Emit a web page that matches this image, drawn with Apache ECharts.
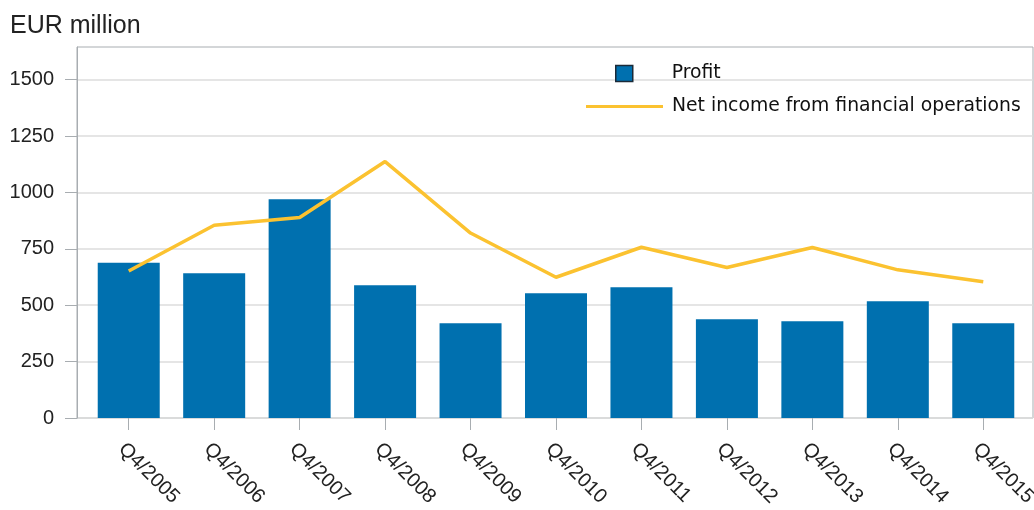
<!DOCTYPE html>
<html>
<head>
<meta charset="utf-8">
<script src="https://cdn.jsdelivr.net/npm/echarts@6/dist/echarts.min.js"></script>
<style>
  html, body { margin: 0; padding: 0; background: #fff; }
  #chart { width: 1034px; height: 510px; }
</style>
</head>
<body>
<div id="chart"></div>
<script>
const categories = ["Q4/2005", "Q4/2006", "Q4/2007", "Q4/2008", "Q4/2009", "Q4/2010",
  "Q4/2011", "Q4/2012", "Q4/2013", "Q4/2014", "Q4/2015"];
const profit = [688, 642, 970, 589, 420, 553, 580, 438, 429, 518, 420];
const netIncome = [652, 855, 889, 1137, 820, 624, 757, 667, 756, 657, 604];
const yTicks = [0, 250, 500, 750, 1000, 1250, 1500];

const font = "Liberation Sans, Arial, sans-serif";
const legendFont = "DejaVu Sans";
const yMax = 1645;
const axisGray = "#a8adb1";

var chart = echarts.init(document.getElementById("chart"));
var option = {
  backgroundColor: "#fff",
  animation: false,
  title: {
    text: "EUR million",
    left: 5,
    top: 9,
    textStyle: { fontFamily: font, fontSize: 25, fontWeight: "normal", color: "#222" },
  },
  legend: [
    {
      data: [{ name: "Profit", icon: "rect" }],
      left: 615,
      top: 64,
      padding: 0,
      itemWidth: 17,
      itemHeight: 16,
      itemStyle: { borderColor: "#1b2a38", borderWidth: 1.5 },
      textStyle: { fontFamily: legendFont, fontSize: 18.8, color: "#111", padding: [0, 0, 0, 34] },
    },
    {
      data: [{ name: "Net income from financial operations", icon: "rect" }],
      left: 586,
      top: 97,
      padding: 0,
      itemWidth: 77,
      itemHeight: 3,
      textStyle: { fontFamily: legendFont, fontSize: 18.8, color: "#111", padding: [0, 0, 0, 4] },
    },
  ],
  grid: [
    { left: 77, right: 1, top: 47, bottom: 92, show: true, borderColor: axisGray, borderWidth: 1, outerBoundsMode: "none" },
    { left: 86, right: 8, top: 47, bottom: 92, outerBoundsMode: "none" },
  ],
  xAxis: [
    { type: "value", gridIndex: 0, show: false, min: 0, max: 1 },
    {
      type: "category",
      gridIndex: 1,
      data: categories,
      axisLine: { show: false },
      axisTick: { show: true, alignWithLabel: true, length: 12, lineStyle: { color: axisGray } },
      axisLabel: {
        rotate: -45,
        margin: 21,
        verticalAlign: "top",
        fontFamily: font,
        fontSize: 20,
        color: "#222",
      },
    },
  ],
  yAxis: [
    {
      type: "value",
      gridIndex: 0,
      min: 0,
      max: yMax,
      interval: 250,
      axisLine: { show: true, lineStyle: { color: axisGray } },
      axisTick: { show: true, length: 12, customValues: yTicks, lineStyle: { color: axisGray } },
      axisLabel: {
        margin: 23,
        fontFamily: font,
        fontSize: 20,
        color: "#222",
        customValues: yTicks,
        formatter: function (v) { return yTicks.indexOf(v) >= 0 ? String(v) : ""; },
      },
      splitLine: { show: true, lineStyle: { color: "#dcdcdc", width: 1.5 } },
    },
    { type: "value", gridIndex: 1, min: 0, max: yMax, show: false },
  ],
  series: [
    {
      name: "Profit",
      type: "bar",
      xAxisIndex: 1,
      yAxisIndex: 1,
      data: profit,
      barWidth: 62,
      itemStyle: { color: "#0070af" },
    },
    {
      name: "Net income from financial operations",
      type: "line",
      xAxisIndex: 1,
      yAxisIndex: 1,
      data: netIncome,
      symbol: "none",
      lineStyle: { color: "#fbc230", width: 3.5 },
      itemStyle: { color: "#fbc230" },
    },
  ],
};
chart.setOption(option);
</script>
</body>
</html>
